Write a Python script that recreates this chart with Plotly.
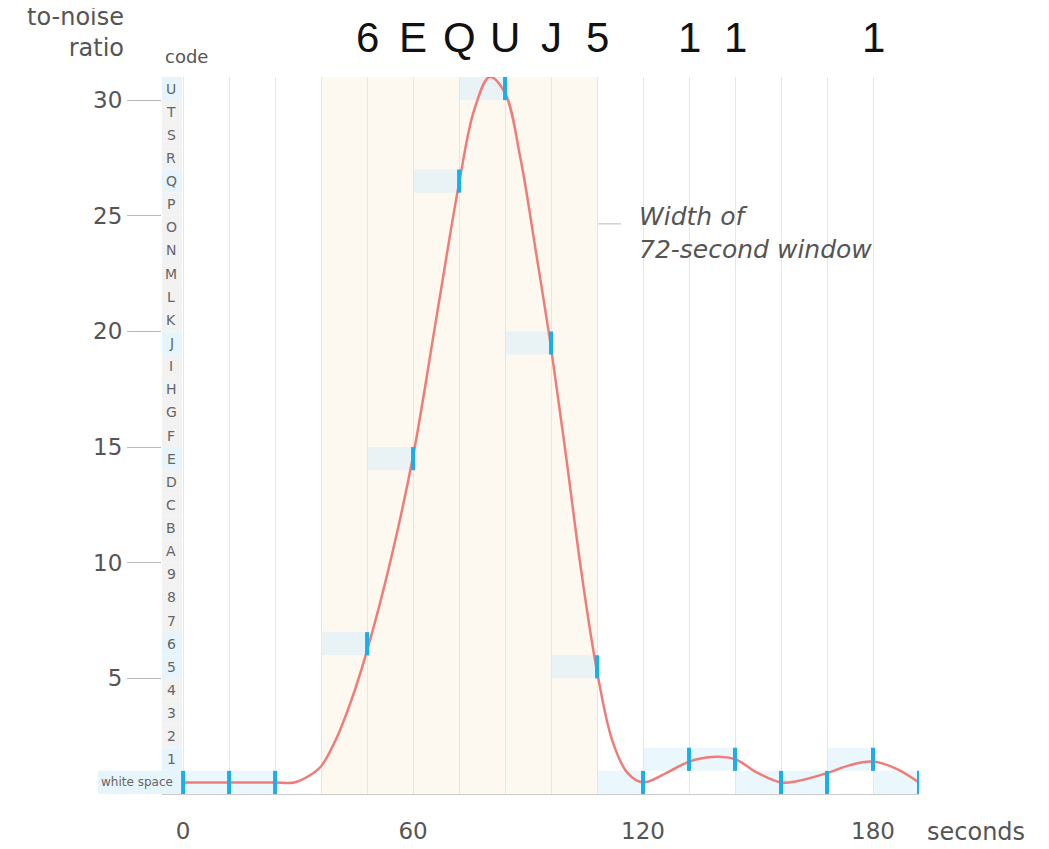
import plotly.graph_objects as go

# SNR curve
curve_t = [0, 12, 24, 29, 33, 36, 40, 44, 48, 54, 60, 66, 72, 76, 80, 84, 88, 92, 96,
           100, 104, 108, 112, 116, 120, 126, 132, 138, 144, 150, 156, 160, 168, 174, 180, 186, 192]
curve_v = [0.5, 0.5, 0.5, 0.5, 0.8, 1.2, 2.4, 4.1, 6.2, 10.0, 14.6, 20.5, 26.4, 29.6, 31.0, 30.3,
           27.5, 23.5, 19.3, 14.5, 9.5, 5.3, 2.3, 0.9, 0.5, 0.9, 1.4, 1.6, 1.5, 0.9, 0.5, 0.55,
           0.9, 1.25, 1.4, 1.1, 0.5]

# sample times and the code level each one got
sample_t = [0, 12, 24, 48, 60, 72, 84, 96, 108, 120, 132, 144, 156, 168, 180, 192]
sample_level = [0, 0, 0, 6, 14, 26, 30, 19, 5, 0, 1, 1, 0, 0, 1, 0]

codes = ["white space"] + [str(i) for i in range(1, 10)] + [chr(c) for c in range(ord("A"), ord("V"))]
window = (36, 108)
step = 12

X0, X1, Y1 = -5.5, 192, 31
L, R, T, B = 154, 138, 69, 63
W, H = 1049, 849
pw = W - L - R
ph = H - T - B
# offset between requested and rendered pixels
DX, DY = 7, 8


def px(p):
    return (p - DX - L) / pw


def py(p):
    return 1 - (p - DY - T) / ph


used = set(sample_level)
fig = go.Figure()
shapes = []
annots = []

# 72-second window band
shapes.append(dict(type="rect", xref="x", yref="y", x0=window[0], x1=window[1], y0=0, y1=Y1,
                   fillcolor="#fdf8f0", line_width=0, layer="below"))

# code column
for i, c in enumerate(codes):
    fill = "#e6f5fc" if i in used else "#f2f2f2"
    x0 = px(97) if i == 0 else px(161)
    shapes.append(dict(type="rect", xref="paper", yref="y", x0=x0, x1=px(181), y0=i, y1=i + 1,
                       fillcolor=fill, line_width=0, layer="below"))
    annots.append(dict(xref="paper", yref="y", x=px(174) if i == 0 else px(170), y=i + 0.5,
                       text=c, showarrow=False, xanchor="right" if i == 0 else "center",
                       font=dict(size=12 if i == 0 else 14, color="#666")))

# sampled code blocks and ticks
for t, lv in zip(sample_t, sample_level):
    inside = window[0] <= t - step / 2 <= window[1]
    if t > 0:
        shapes.append(dict(type="rect", xref="x", yref="y", x0=t - step, x1=t, y0=lv, y1=lv + 1,
                           fillcolor="#e9f3f5" if inside else "#eaf7fd", line_width=0, layer="below"))
    shapes.append(dict(type="line", xref="x", yref="y", x0=t, x1=t, y0=lv, y1=lv + 1,
                       line=dict(color="#1aaeea", width=4)))
    if lv > 0:
        annots.append(dict(xref="x", yref="paper", x=t, y=py(38), yanchor="middle", text=codes[lv],
                           showarrow=False, font=dict(size=42, color="#111",
                                                      family="Liberation Sans, Arial, sans-serif")))

fig.add_trace(go.Scatter(x=curve_t, y=curve_v, mode="lines", line=dict(color="#f07c78", width=2.5, shape="spline"),
                         hoverinfo="skip"))

annots += [
    dict(xref="paper", yref="paper", x=px(125), y=py(32), xanchor="right", yanchor="middle",
         text="to-noise<br>ratio", showarrow=False, align="right", font=dict(size=24, color="#555")),
    dict(xref="paper", yref="paper", x=px(162), y=py(57), xanchor="left", yanchor="middle",
         text="code", showarrow=False, font=dict(size=18, color="#555")),
    dict(xref="paper", yref="y", x=px(636), y=24.25, xanchor="left", yanchor="middle",
         text="<i>Width of<br>72-second window</i>", showarrow=False, align="left",
         font=dict(size=25, color="#555")),
    dict(xref="paper", yref="paper", x=px(924), y=py(832), xanchor="left", yanchor="middle",
         text="seconds", showarrow=False, font=dict(size=24, color="#555")),
]
shapes.append(dict(type="line", xref="paper", yref="y", x0=px(597), x1=px(620), y0=24.65, y1=24.65,
                   line=dict(color="#bbb", width=1)))

fig.update_layout(
    width=W, height=H, margin=dict(l=L, r=R, t=T, b=B),
    paper_bgcolor="white", plot_bgcolor="white", showlegend=False,
    shapes=shapes, annotations=annots,
    font=dict(family="DejaVu Sans, Verdana, sans-serif"),
    xaxis=dict(range=[X0, X1], tickvals=list(range(0, 193, 12)),
               ticktext=[str(v) if v % 60 == 0 else "" for v in range(0, 193, 12)],
               showgrid=True, gridcolor="#e6e6e6", zeroline=False, showline=True, linecolor="#ccc",
               ticks="", tickfont=dict(size=23, color="#555"), ticklabelstandoff=16),
    yaxis=dict(range=[0, Y1], tickvals=[5, 10, 15, 20, 25, 30], showgrid=False, zeroline=False,
               ticks="outside", ticklen=34, tickcolor="#bbb", tickwidth=1,
               tickfont=dict(size=23, color="#555")),
)

fig.write_html("out.html")
